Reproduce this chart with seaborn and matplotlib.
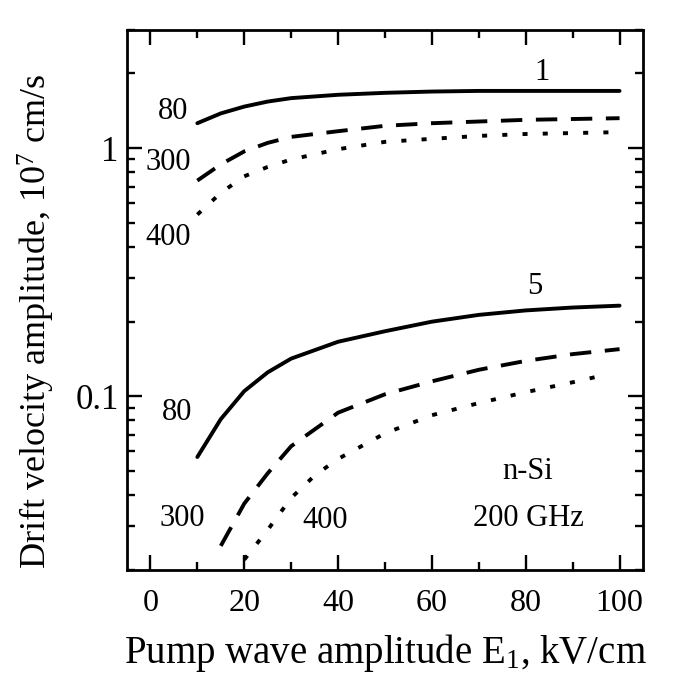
import numpy as np
import pandas as pd
import matplotlib
matplotlib.use("Agg")
import matplotlib.pyplot as plt
import seaborn as sns
from matplotlib.ticker import MultipleLocator, LogLocator, FixedLocator, FixedFormatter, NullFormatter

sns.set_theme(style="ticks")
plt.rcParams.update({
    "font.family": ["Liberation Serif", "DejaVu Serif"],
    "mathtext.fontset": "custom",
    "mathtext.rm": "Liberation Serif",
    "mathtext.it": "Liberation Serif:italic",
    "text.color": "black",
    "axes.labelcolor": "black",
    "xtick.color": "black",
    "ytick.color": "black",
})

# pump amplitude E1 (kV/cm) and drift velocity amplitude (1e7 cm/s)
e_grid = [10, 15, 20, 25, 30, 40, 50, 60, 70, 80, 90, 100]

v1_80 = [1.26, 1.38, 1.47, 1.54, 1.59, 1.64, 1.67, 1.69, 1.70, 1.70, 1.70, 1.70]
v1_300 = [0.74, 0.86, 0.97, 1.05, 1.11, 1.17, 1.23, 1.26, 1.28, 1.30, 1.31, 1.32]
v1_400 = [0.54, 0.66, 0.77, 0.84, 0.90, 0.99, 1.06, 1.09, 1.12, 1.14, 1.15, 1.16]

v5_80 = [0.057, 0.081, 0.105, 0.125, 0.142, 0.166, 0.183, 0.200, 0.213, 0.222, 0.228, 0.232]
e5_300 = [15, 20, 25, 30, 40, 50, 60, 70, 80, 90, 100]
v5_300 = [0.025, 0.037, 0.049, 0.063, 0.086, 0.102, 0.115, 0.128, 0.139, 0.148, 0.155]
e5_400 = [20, 25, 30, 35, 40, 50, 60, 70, 80, 90, 96]
v5_400 = [0.022, 0.029, 0.039, 0.048, 0.056, 0.071, 0.084, 0.094, 0.104, 0.114, 0.121]

series = [
    ("1", "80", e_grid, v1_80),
    ("1", "300", e_grid, v1_300),
    ("1", "400", e_grid, v1_400),
    ("5", "80", e_grid, v5_80),
    ("5", "300", e5_300, v5_300),
    ("5", "400", e5_400, v5_400),
]

rows = []
for grp, temp, xs, vs in series:
    for x, v in zip(xs, vs):
        rows.append({"E": x, "v": v, "T": temp, "curve": grp + "_" + temp})
df = pd.DataFrame(rows)

fig = plt.figure(figsize=(6.79, 6.90), dpi=100)
ax = fig.add_axes([0.187, 0.174, 0.76, 0.783])

sns.lineplot(data=df, x="E", y="v", style="T", units="curve", estimator=None,
             dashes={"80": "", "300": (5.5, 3.5), "400": (1.3, 3.9)},
             color="black", lw=2.8, legend=False, ax=ax)

ax.set_yscale("log")
ax.set_xlim(-5, 105)
ax.set_ylim(0.02, 3)

ax.xaxis.set_major_locator(MultipleLocator(20))
ax.xaxis.set_minor_locator(MultipleLocator(10))
ax.yaxis.set_major_locator(FixedLocator([0.1, 1]))
ax.yaxis.set_major_formatter(FixedFormatter(["0.1", "1"]))
ax.yaxis.set_minor_locator(LogLocator(base=10, subs=np.arange(2, 10)))
ax.yaxis.set_minor_formatter(NullFormatter())

ax.tick_params(which="both", direction="in", top=True, right=True, width=1.7)
ax.tick_params(which="major", length=11)
ax.tick_params(which="minor", length=6)
ax.tick_params(axis="x", which="major", labelsize=23, pad=14)
ax.tick_params(axis="y", which="major", labelsize=25, pad=6)
for s in ax.spines.values():
    s.set_linewidth(2.0)
    s.set_color("black")

ax.set_xlabel("Pump wave amplitude E$_\\mathrm{1}$, kV/cm", fontsize=28, labelpad=10)
ax.set_ylabel("Drift velocity amplitude, 10$^7$ cm/s", fontsize=26)
ax.yaxis.set_label_coords(-0.135, 0.46)

fs = 22
ax.text(83.5, 2.02, "1", fontsize=fs, ha="center", va="center")
ax.text(82, 0.277, "5", fontsize=fs, ha="center", va="center")
ax.text(4.8, 1.40, "80", fontsize=fs, ha="center", va="center")
ax.text(3.8, 0.877, "300", fontsize=fs, ha="center", va="center")
ax.text(3.8, 0.435, "400", fontsize=fs, ha="center", va="center")
ax.text(5.6, 0.0862, "80", fontsize=fs, ha="center", va="center")
ax.text(6.7, 0.0323, "300", fontsize=fs, ha="center", va="center")
ax.text(37.2, 0.0316, "400", fontsize=fs, ha="center", va="center")
ax.text(80.5, 0.050, "n-Si", fontsize=fs, ha="center", va="center")
ax.text(80.5, 0.0323, "200 GHz", fontsize=fs, ha="center", va="center")

fig.savefig("out.png", dpi=100)
